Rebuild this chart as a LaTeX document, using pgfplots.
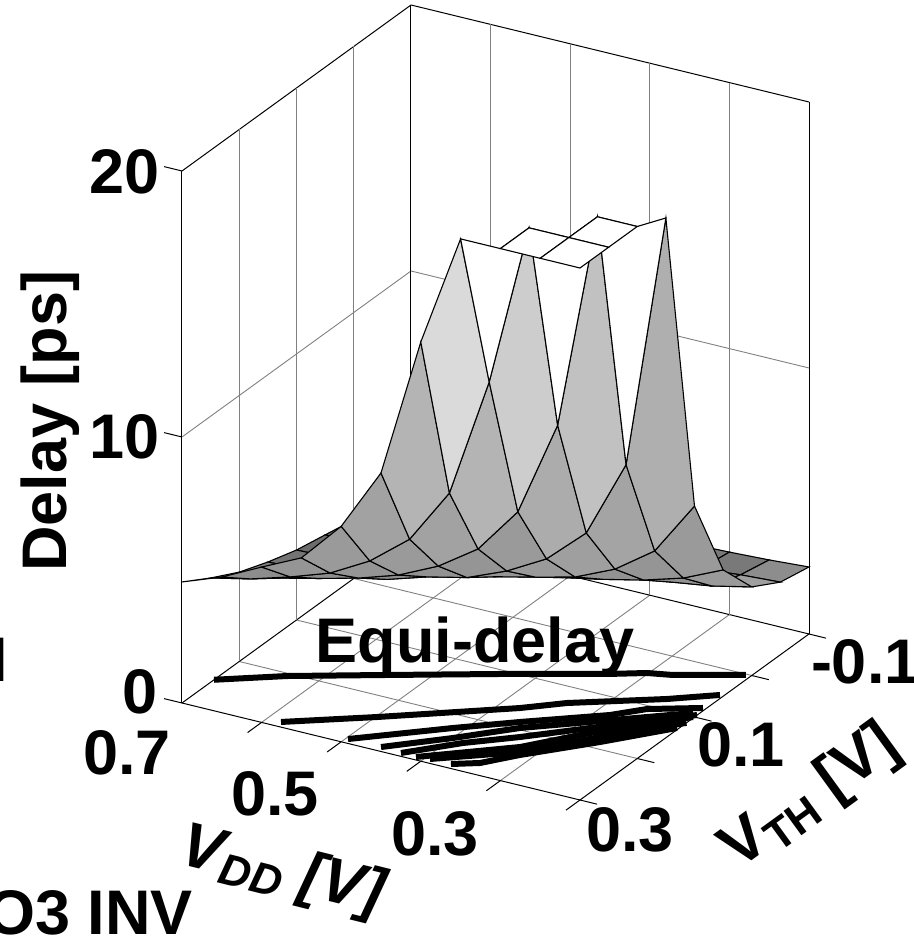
\documentclass[border=0pt]{standalone}
\usepackage{fontspec}
\setmainfont{Liberation Sans}
\usepackage{pgfplots}
\usepackage{pgfplotstable}
\pgfplotsset{compat=1.18}
\pgfplotstableread{
x y z c
0.70 -0.10 2.05 0.45
0.65 -0.10 2.07 0.45
0.60 -0.10 2.10 0.45
0.55 -0.10 2.13 0.47
0.50 -0.10 2.16 0.47
0.45 -0.10 2.20 0.47
0.40 -0.10 2.23 0.47
0.35 -0.10 2.30 0.47
0.30 -0.10 2.35 0.47
0.25 -0.10 2.42 0.55
0.20 -0.10 2.52 0.55
0.70 -0.05 2.10 0.45
0.65 -0.05 2.13 0.45
0.60 -0.05 2.16 0.47
0.55 -0.05 2.20 0.47
0.50 -0.05 2.23 0.50
0.45 -0.05 2.28 0.50
0.40 -0.05 2.33 0.52
0.35 -0.05 2.40 0.52
0.30 -0.05 2.50 0.50
0.25 -0.05 2.64 0.62
0.20 -0.05 2.73 0.62
0.70 0.00 2.20 0.42
0.65 0.00 2.22 0.42
0.60 0.00 2.27 0.47
0.55 0.00 2.32 0.50
0.50 0.00 2.38 0.55
0.45 0.00 2.44 0.55
0.40 0.00 2.52 0.55
0.35 0.00 2.63 0.57
0.30 0.00 2.78 0.57
0.25 0.00 3.00 0.60
0.20 0.00 3.33 0.60
0.70 0.05 2.42 0.42
0.65 0.05 2.44 0.42
0.60 0.05 2.50 0.45
0.55 0.05 2.57 0.50
0.50 0.05 2.66 0.55
0.45 0.05 2.80 0.55
0.40 0.05 3.00 0.55
0.35 0.05 3.30 0.57
0.30 0.05 3.64 0.58
0.25 0.05 4.08 0.60
0.20 0.05 4.75 0.60
0.70 0.10 2.63 0.45
0.65 0.10 2.68 0.45
0.60 0.10 2.78 0.50
0.55 0.10 2.90 0.55
0.50 0.10 3.10 0.57
0.45 0.10 3.45 0.58
0.40 0.10 3.80 0.60
0.35 0.10 4.17 0.62
0.30 0.10 4.83 0.64
0.25 0.10 5.88 0.68
0.20 0.10 7.93 0.68
0.70 0.15 2.96 0.50
0.65 0.15 3.02 0.52
0.60 0.15 3.15 0.55
0.55 0.15 3.40 0.55
0.50 0.15 3.86 0.57
0.45 0.15 4.20 0.58
0.40 0.15 4.81 0.60
0.35 0.15 5.63 0.67
0.30 0.15 6.97 0.75
0.25 0.15 9.90 1.00
0.20 0.15 19.54 1.00
0.70 0.20 3.36 0.55
0.65 0.20 3.50 0.55
0.60 0.20 3.85 0.55
0.55 0.20 4.23 0.58
0.50 0.20 4.71 0.60
0.45 0.20 5.41 0.63
0.40 0.20 6.42 0.70
0.35 0.20 8.18 0.80
0.30 0.20 11.80 1.00
0.25 0.20 20.00 1.00
0.20 0.20 20.00 1.00
0.70 0.25 3.92 0.55
0.65 0.25 4.25 0.55
0.60 0.25 4.69 0.58
0.55 0.25 5.20 0.60
0.50 0.25 6.02 0.63
0.45 0.25 7.20 0.70
0.40 0.25 9.30 0.85
0.35 0.25 13.84 1.00
0.30 0.25 20.00 1.00
0.25 0.25 20.00 1.00
0.20 0.25 20.00 1.00
0.70 0.30 4.55 1.00
0.65 0.30 5.10 1.00
0.60 0.30 5.84 1.00
0.55 0.30 6.55 1.00
0.50 0.30 8.10 1.00
0.45 0.30 10.47 1.00
0.40 0.30 15.76 1.00
0.35 0.30 20.00 1.00
0.30 0.30 20.00 1.00
0.25 0.30 20.00 1.00
0.20 0.30 20.00 1.00
}\surfdata
\newcommand{\lab}{\fontsize{63}{63}\selectfont\bfseries}
\newcommand{\subs}{\fontsize{44}{44}\selectfont\bfseries}
\begin{document}
\begin{tikzpicture}[x=1pt,y=1pt]
\path[use as bounding box,clip] (0,0) rectangle (913,945);
\begin{axis}[
  at={(751.75pt,269.5pt)},anchor=origin,
  disabledatascaling,
  x={(-796pt,194pt)},y={(-572.5pt,-415pt)},z={(0pt,26.6pt)},
  xmin=0.2,xmax=0.7,ymin=-0.1,ymax=0.3,zmin=0,zmax=20,
  xtick={0.3,0.4,0.5,0.6},ytick={0,0.1,0.2},ztick={10},
  xticklabels={},yticklabels={},zticklabels={},
  grid=major,grid style={gray,line width=0.9pt},
  axis line style={black,line width=1pt},
  major tick length=0pt,
  clip=false,
  colormap={g}{gray(0cm)=(0);gray(1cm)=(1)},
  point meta min=0,point meta max=1,
]
\addplot3[surf,shader=flat corner,draw=black,line width=1.1pt,z buffer=none,
  mesh/rows=9,mesh/cols=11,mesh/ordering=x varies]
  table[x=x,y=y,z=z,point meta=\thisrow{c}] {\surfdata};
\addplot3[black,line width=6pt,line join=round] coordinates {(0.700,0.2440,0)(0.6363,0.2052,0)(0.5473,0.1612,0)(0.4386,0.1079,0)(0.3380,0.0609,0)(0.3017,0.0415,0)(0.2747,0.0337,0)(0.2061,0.0016,0)};
\addplot3[black,line width=6pt,line join=round] coordinates {(0.5823,0.2907,0)(0.4985,0.2396,0)(0.3757,0.1605,0)(0.3380,0.1308,0)(0.2492,0.0796,0)(0.2046,0.0491,0)};
\addplot3[black,line width=6pt,line join=round] coordinates {(0.4972,0.2920,0)(0.4128,0.2260,0)(0.3576,0.1857,0)(0.2820,0.1335,0)(0.2550,0.1065,0)(0.2037,0.0800,0)};
\addplot3[black,line width=6pt,line join=round] coordinates {(0.4558,0.2919,0)(0.3998,0.2440,0)(0.3498,0.1965,0)(0.2918,0.1549,0)(0.2066,0.0935,0)};
\addplot3[black,line width=6pt,line join=round] coordinates {(0.4293,0.2939,0)(0.3839,0.2486,0)(0.3381,0.2128,0)(0.2840,0.1658,0)(0.2002,0.0953,0)};
\addplot3[black,line width=6pt,line join=round] coordinates {(0.4100,0.2945,0)(0.3251,0.2308,0)(0.2775,0.1748,0)(0.2014,0.1007,0)};
\addplot3[black,line width=6pt,line join=round] coordinates {(0.3942,0.2920,0)(0.3187,0.2398,0)(0.2629,0.1776,0)(0.2000,0.1141,0)};
\addplot3[black,line width=6pt,line join=round] coordinates {(0.3680,0.2918,0)(0.3420,0.2772,0)(0.3148,0.2452,0)(0.2564,0.1866,0)(0.2022,0.1275,0)};
% tick marks, in the plane of the floor and of the left wall
\draw[black,line width=1pt] (axis cs:0.6,0.3,0)--(axis cs:0.6,0.3245,0);
\draw[black,line width=1pt] (axis cs:0.5,0.3,0)--(axis cs:0.5,0.3245,0);
\draw[black,line width=1pt] (axis cs:0.4,0.3,0)--(axis cs:0.4,0.3245,0);
\draw[black,line width=1pt] (axis cs:0.3,0.3,0)--(axis cs:0.3,0.3245,0);
\draw[black,line width=1pt] (axis cs:0.2,0.3,0)--(axis cs:0.2,0.3245,0);
\draw[black,line width=1pt] (axis cs:0.2,0.3,0)--(axis cs:0.1786,0.3,0);
\draw[black,line width=1pt] (axis cs:0.2,0.2,0)--(axis cs:0.1786,0.2,0);
\draw[black,line width=1pt] (axis cs:0.2,0.1,0)--(axis cs:0.1786,0.1,0);
\draw[black,line width=1pt] (axis cs:0.2,0.0,0)--(axis cs:0.1786,0.0,0);
\draw[black,line width=1pt] (axis cs:0.2,-0.1,0)--(axis cs:0.1786,-0.1,0);
\draw[black,line width=1pt] (axis cs:0.7,0.3,0)--(axis cs:0.7225,0.3,0);
\draw[black,line width=1pt] (axis cs:0.7,0.3,10)--(axis cs:0.7225,0.3,10);
\draw[black,line width=1pt] (axis cs:0.7,0.3,20)--(axis cs:0.7225,0.3,20);
\end{axis}
% texts, placed in pixel coordinates (y measured from the bottom)
\tikzset{t/.style={inner sep=0pt,outer sep=0pt,text=black,font=\lab}}
\node[t,anchor=base east] at (160,945-194) {20};
\node[t,anchor=base east] at (160,945-459) {10};
\node[t,anchor=base east] at (158,945-714) {0};
\node[t,anchor=base] at (127,945-775) {0.7};
\node[t,anchor=base] at (275,945-816) {0.5};
\node[t,anchor=base] at (435,945-856) {0.3};
\node[t,anchor=base] at (630,945-852) {0.3};
\node[t,anchor=base] at (741,945-767) {0.1};
\node[t,anchor=base west] at (811,945-684) {-0.1};
\node[t,rotate=90,anchor=center] at (50,945-421) {Delay [ps]};
\node[t,anchor=base] at (475,945-663) {Equi-delay};
\node[t,anchor=base east] at (193,945-935) {O3 INV};
\node[t,anchor=base east] at (8,945-682) {I};
\node[t,rotate=-14,anchor=center] at (282,945-873) {\itshape V{\subs\raisebox{-9pt}{DD}} [V]};
\node[t,rotate=36,anchor=center] at (811,945-798) {V{\subs\raisebox{-9pt}{TH}} [V]};
\end{tikzpicture}
\end{document}
